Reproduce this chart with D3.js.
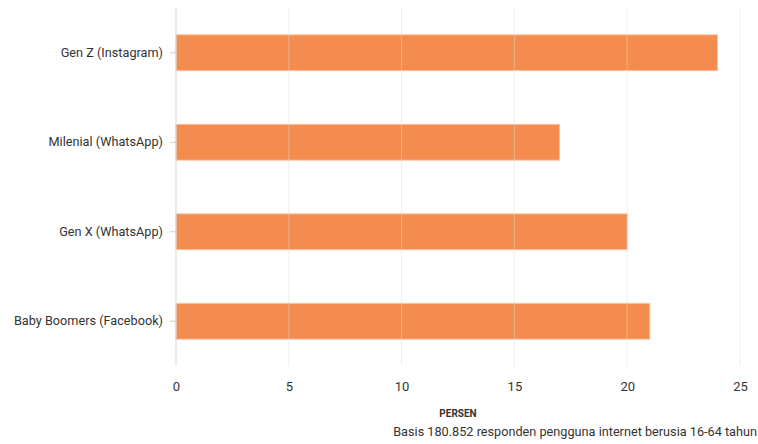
<!DOCTYPE html>
<html>
<head>
<meta charset="utf-8">
<script src="https://cdn.jsdelivr.net/npm/d3@7"></script>
<style>
  body { margin: 0; background: #fff; }
  text { font-family: Roboto, "Noto Sans", sans-serif; }
</style>
</head>
<body>
<div id="chart"></div>
<script>
// data
var categories = ["Gen Z (Instagram)", "Milenial (WhatsApp)", "Gen X (WhatsApp)", "Baby Boomers (Facebook)"];
var values = [24, 17, 20, 21];
var xTicks = [0, 5, 10, 15, 20, 25];
var axisTitle = "PERSEN";
var note = "Basis 180.852 responden pengguna internet berusia 16-64 tahun";

var svgWidth = 758;
var svgHeight = 444;
var margin = { top: 8, right: 18, bottom: 78, left: 176 };
var width = svgWidth - margin.left - margin.right;
var height = svgHeight - margin.top - margin.bottom;

var svg = d3.select("#chart")
    .append("svg")
    .attr("width", svgWidth)
    .attr("height", svgHeight);

var chartGroup = svg.append("g")
    .attr("transform", `translate(${margin.left}, ${margin.top})`);

var x = d3.scaleLinear()
    .domain([0, 25])
    .range([0, width]);

var y = d3.scaleBand()
    .domain(categories)
    .range([0, height])
    .paddingInner(0.6)
    .paddingOuter(0.3);

// bars
chartGroup.selectAll("rect.bar")
    .data(values)
    .enter()
    .append("rect")
    .attr("class", "bar")
    .attr("x", x(0))
    .attr("y", (d, i) => y(categories[i]))
    .attr("width", d => x(d) - x(0))
    .attr("height", y.bandwidth())
    .attr("fill", "#f48c4f")
    .attr("stroke", "#f9c09c")
    .attr("stroke-width", 1);

// gridlines (drawn over bars, faint)
chartGroup.selectAll("line.grid")
    .data(xTicks.slice(1))
    .enter()
    .append("line")
    .attr("class", "grid")
    .attr("x1", d => x(d))
    .attr("x2", d => x(d))
    .attr("y1", 0)
    .attr("y2", height)
    .attr("stroke", "#dcdcdc")
    .attr("stroke-opacity", 0.45)
    .attr("stroke-width", 1);

// left axis line
chartGroup.append("line")
    .attr("x1", x(0)).attr("x2", x(0))
    .attr("y1", 0).attr("y2", height)
    .attr("stroke", "#d6d6d6");

// y axis
var leftAxis = d3.axisLeft(y).tickSize(6).tickPadding(7);
var yAxisG = chartGroup.append("g").call(leftAxis);
yAxisG.select(".domain").remove();
yAxisG.selectAll(".tick line").attr("stroke", "#cccccc");
yAxisG.selectAll(".tick text")
    .attr("fill", "#333")
    .attr("font-size", 12.7)
    .attr("font-family", "Roboto, sans-serif");

// x axis
var bottomAxis = d3.axisBottom(x).tickValues(xTicks).tickSize(0).tickPadding(16);
var xAxisG = chartGroup.append("g")
    .attr("transform", `translate(0, ${height})`)
    .call(bottomAxis);
xAxisG.select(".domain").remove();
xAxisG.selectAll(".tick text")
    .attr("fill", "#333")
    .attr("font-size", 13)
    .attr("font-family", "Roboto, sans-serif");

// axis title
chartGroup.append("text")
    .attr("x", width / 2)
    .attr("y", height + 51)
    .attr("text-anchor", "middle")
    .attr("font-size", 10)
    .attr("font-weight", "bold")
    .attr("fill", "#333")
    .text(axisTitle);

// note
svg.append("text")
    .attr("x", 757)
    .attr("y", 436)
    .attr("text-anchor", "end")
    .attr("font-size", 12.7)
    .attr("fill", "#333")
    .text(note);
</script>
</body>
</html>
